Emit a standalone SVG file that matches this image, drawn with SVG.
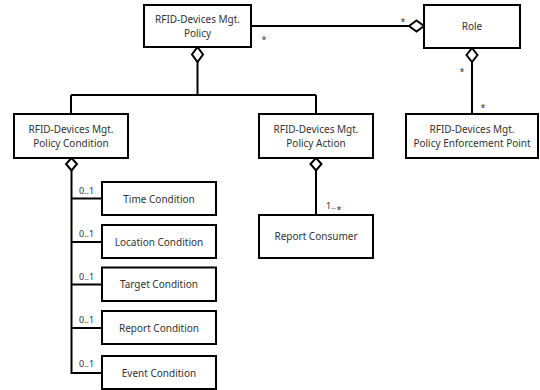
<svg xmlns="http://www.w3.org/2000/svg" width="540" height="390" viewBox="0 0 540 390">
<style>
.box{fill:#fff;stroke:#000;stroke-width:2}
.t{font-family:"Noto Sans","Liberation Sans",sans-serif;font-size:10px;fill:#333;text-anchor:middle}
.m{font-family:"Noto Sans","Liberation Sans",sans-serif;font-size:9px;fill:#333}
.ln{fill:none;stroke:#000;stroke-width:2}
.dia{fill:#fff;stroke:#000;stroke-width:2}
</style>
<rect width="540" height="390" fill="#fff"/>
<g id="connectors">
<path class="ln" d="M251 26H409"/>
<path class="dia" d="M409 26L416.5 20.5L424 26L416.5 31.5Z"/>
<path class="ln" d="M197.5 62V95M71 95H316M71 95V114M316 95V114"/>
<path class="dia" d="M197.5 47L203 54.5L197.5 62L192 54.5Z"/>
<path class="ln" d="M472 62V114"/>
<path class="dia" d="M472 48L477.5 55L472 62L466.5 55Z"/>
<path class="ln" d="M316 170V215"/>
<path class="dia" d="M316 158L321.5 164L316 170.5L310.5 164Z"/>
<path class="ln" d="M71.5 170V373H102M71.5 198.5H102M71.5 242H102M71.5 284.5H102M71.5 328H102"/>
<path class="dia" d="M71.5 158L77 164L71.5 170.5L66 164Z"/>
<text class="m" x="264" y="43" text-anchor="middle">*</text>
<text class="m" x="403" y="25" text-anchor="middle">*</text>
<text class="m" x="462" y="75" text-anchor="middle">*</text>
<text class="m" x="483" y="111" text-anchor="middle">*</text>
<text class="m" x="326" y="209" font-size="8">1..</text>
<text class="m" x="339" y="213" text-anchor="middle">*</text>
<text class="m" x="79" y="194">0..1</text>
<text class="m" x="79" y="237">0..1</text>
<text class="m" x="79" y="280">0..1</text>
<text class="m" x="79" y="323">0..1</text>
<text class="m" x="79" y="367">0..1</text>
</g>
<g id="policy"><rect class="box" x="144" y="5" width="107" height="42"/><text class="t" x="197.5" y="23">RFID-Devices Mgt.</text><text class="t" x="197.5" y="36.5">Policy</text></g>
<g id="role"><rect class="box" x="424" y="5" width="96" height="43"/><text class="t" x="472" y="30">Role</text></g>
<g id="condition"><rect class="box" x="14" y="114" width="114" height="44"/><text class="t" x="71" y="132.5">RFID-Devices Mgt.</text><text class="t" x="71" y="146.5">Policy Condition</text></g>
<g id="action"><rect class="box" x="259" y="114" width="114" height="44"/><text class="t" x="316" y="132.5">RFID-Devices Mgt.</text><text class="t" x="316" y="146.5">Policy Action</text></g>
<g id="pep"><rect class="box" x="406" y="114" width="132" height="44"/><text class="t" x="472" y="132.5">RFID-Devices  Mgt.</text><text class="t" x="472" y="146.5">Policy Enforcement Point</text></g>
<g id="consumer"><rect class="box" x="259" y="215" width="114" height="43"/><text class="t" x="316" y="240">Report Consumer</text></g>
<g id="time"><rect class="box" x="102" y="182" width="114" height="33"/><text class="t" x="159" y="202.5">Time Condition</text></g>
<g id="location"><rect class="box" x="102" y="225" width="114" height="33"/><text class="t" x="159" y="245.5">Location Condition</text></g>
<g id="target"><rect class="box" x="102" y="267.5" width="114" height="33.5"/><text class="t" x="159" y="288">Target Condition</text></g>
<g id="report"><rect class="box" x="102" y="311" width="114" height="33"/><text class="t" x="159" y="331.5">Report Condition</text></g>
<g id="event"><rect class="box" x="102" y="356" width="114" height="33"/><text class="t" x="159" y="376.5">Event Condition</text></g>
</svg>
